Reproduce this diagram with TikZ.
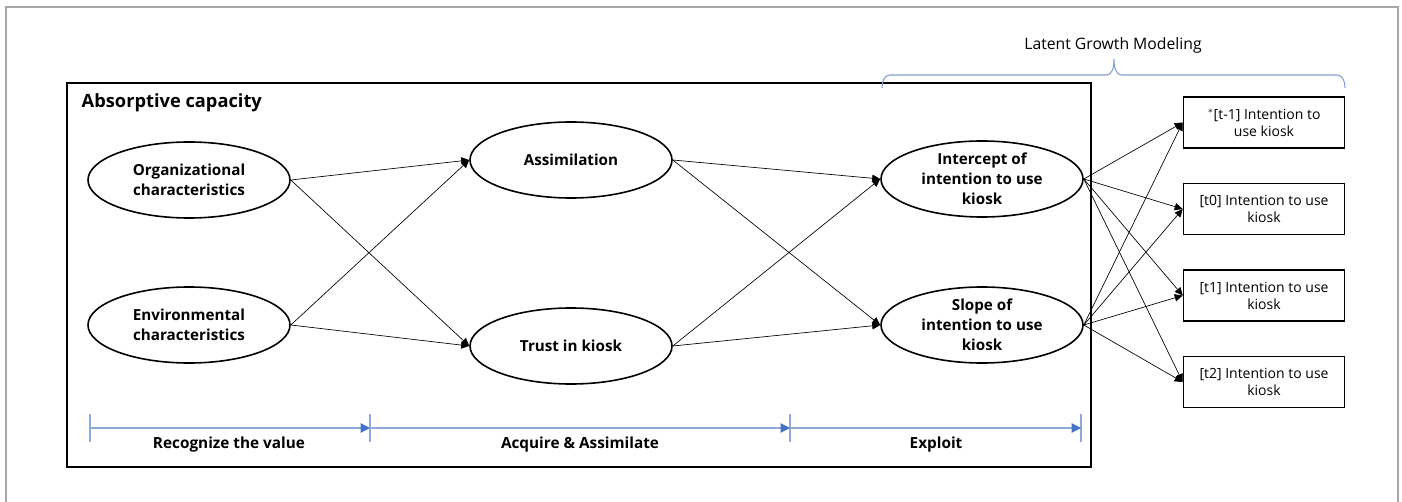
\documentclass[tikz,border=0pt]{standalone}
\usepackage{fontspec}
\setmainfont{Open Sans}
\usetikzlibrary{shapes.geometric,arrows.meta}
\definecolor{tlblue}{HTML}{4472C4}
\definecolor{tlline}{HTML}{8EA9DB}
\definecolor{brblue}{HTML}{7F9FD4}
\definecolor{framegray}{HTML}{A6A6A6}
\begin{document}
\begin{tikzpicture}[x=0.75pt,y=-0.75pt,
  ell/.style={draw,ellipse,line width=1.2pt,minimum width=151.5pt,minimum height=57pt,inner sep=0pt,align=center,font=\fontsize{11.4}{15}\selectfont\bfseries},
  obs/.style={draw,rectangle,line width=1.2pt,minimum width=120.75pt,minimum height=38.25pt,inner sep=0pt,align=center,font=\fontsize{10.5}{12.75}\selectfont},
  conn/.style={line width=0.5pt,-{Triangle[length=6pt,width=5.5pt]}},
  tlarrow/.style={draw=tlline,line width=0.9pt,-{Triangle[length=7pt,width=7pt,color=tlblue]}},
  tick/.style={draw=tlline,line width=0.9pt},
  phase/.style={font=\fontsize{11.5}{13}\selectfont\bfseries},
  brace/.style={draw=brblue,line width=0.8pt}
]
\useasboundingbox (0,0) rectangle (1402,502);
% outer frame
\draw[framegray,line width=0.9pt] (6,502) -- (6,7) -- (1398,7) -- (1398,502);
% main box
\node[draw,line width=1.2pt,minimum width=768pt,minimum height=288pt,inner sep=0pt] (box) at (579,275) {};
\node[anchor=west,font=\fontsize{13.7}{16}\selectfont\bfseries] (title) at (77,103) {Absorptive capacity};

% ellipses
\node[ell] (org) at (189,180) {Organizational\\characteristics};
\node[ell] (env) at (189,325) {Environmental\\characteristics};
\node[ell] (asm) at (571,160) {Assimilation};
\node[ell] (tru) at (571,346) {Trust in kiosk};
\node[ell] (int) at (982,179) {Intercept of\\intention to use\\kiosk};
\node[ell] (slo) at (982,325) {Slope of\\intention to use\\kiosk};

% observed boxes
\node[obs] (b1) at (1264,122.5) {$^{*}$[t-1] Intention to\\use kiosk};
\node[obs] (b2) at (1264,209) {[t0] Intention to use\\kiosk};
\node[obs] (b3) at (1264,295.5) {[t1] Intention to use\\kiosk};
\node[obs] (b4) at (1264,382) {[t2] Intention to use\\kiosk};

% connectors
\foreach \s in {org,env}{\foreach \t in {asm,tru}{\draw[conn] (\s.east) -- (\t.west);}}
\foreach \s in {asm,tru}{\foreach \t in {int,slo}{\draw[conn] (\s.east) -- (\t.west);}}
\foreach \s in {int,slo}{\foreach \t in {b1,b2,b3,b4}{\draw[conn] (\s.east) -- (\t.west);}}

% brace
\coordinate (brL) at (882,88);
\coordinate (brR) at (1345,88);
\coordinate (brT) at (1114,59);
\draw[brace] (brL) to[out=90,in=180] (890,75) -- (1106,75) to[out=0,in=270] (brT)
  to[out=270,in=180] (1122,75) -- (1337,75) to[out=0,in=90] (brR);
\node[font=\fontsize{11.8}{14}\selectfont] (lgm) at (1113,45) {Latent Growth Modeling};

% timeline
\coordinate (t0) at (90,428);
\coordinate (t1) at (370,428);
\coordinate (t2) at (790,428);
\coordinate (t3) at (1081,428);
\foreach \p in {t0,t1,t2,t3}{\draw[tick] ([yshift=10.5pt]\p) -- ([yshift=-10.5pt]\p);}
\draw[tlarrow] (t0) -- (t1);
\draw[tlarrow] (t1) -- (t2);
\draw[tlarrow] (t2) -- (t3);
\node[phase] (p1) at (229,445) {Recognize the value};
\node[phase] (p2) at (580,445) {Acquire \& Assimilate};
\node[phase] (p3) at (936,445) {Exploit};
\end{tikzpicture}
\end{document}
